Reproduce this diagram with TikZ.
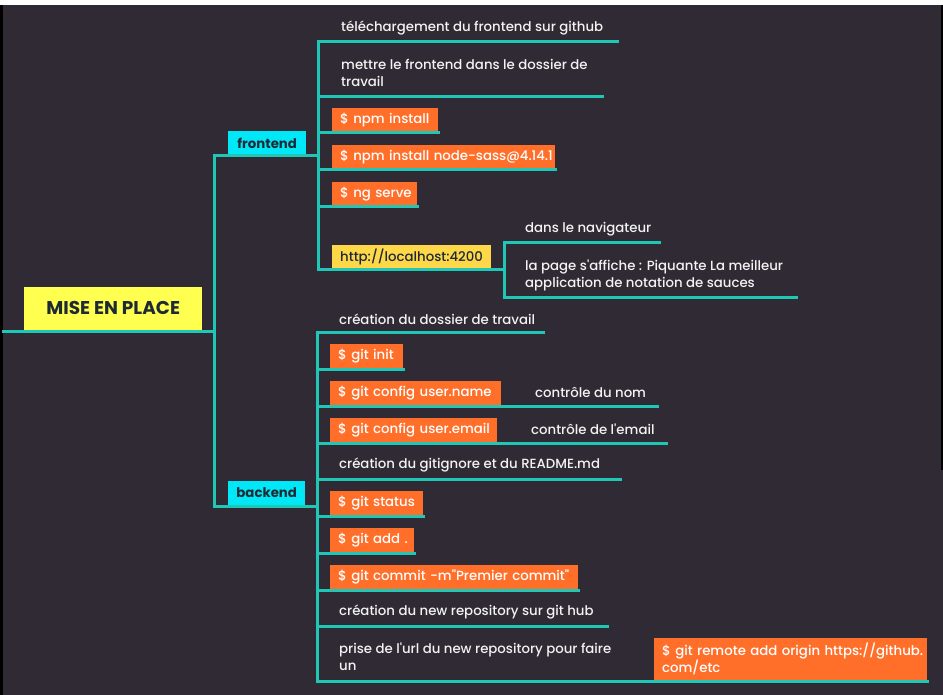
\documentclass[tikz,border=0pt]{standalone}
\usepackage{fontspec}
\setmainfont{Poppins}[UprightFont=* Medium, BoldFont=* Bold, Ligatures=TeXOff]
\definecolor{bgc}{HTML}{2F2A33}
\definecolor{teal}{HTML}{1FC8B6}
\definecolor{cyanb}{HTML}{00E8F8}
\definecolor{orangeb}{HTML}{FF6F2A}
\definecolor{yelmain}{HTML}{FFFF50}
\definecolor{yelloc}{HTML}{FFD84A}
\definecolor{txt}{HTML}{F2F2F2}
\definecolor{dark}{HTML}{1E2A33}
\tikzset{
  x=1pt, y=-1pt,
  conn/.style={draw=teal, line width=3pt, line cap=rect},
  plain/.style={text=txt, anchor=west, inner sep=0pt, align=left,
    font=\fontsize{13.3}{17}\selectfont},
  obox/.style={fill=orangeb, text=white, anchor=south west, inner xsep=8pt,
    inner ysep=0pt, minimum height=23.5pt, align=left,
    font=\fontsize{13.3}{17}\selectfont},
  cbox/.style={fill=cyanb, text=dark, anchor=south west, inner xsep=0pt,
    inner ysep=0pt, minimum height=23.5pt, align=center,
    font=\bfseries\fontsize{13.3}{15}\selectfont},
}
\begin{document}
\begin{tikzpicture}
\useasboundingbox (0,0) rectangle (943,695);
\fill[bgc] (0,0) rectangle (943,695);
\fill[white] (0,0) rectangle (943,5);
\fill[black] (0,5) rectangle (3,695);
\fill[black] (940.5,5) rectangle (943,470);

% ---- main node
\node[fill=yelmain, text=dark, anchor=south west, minimum width=178pt,
  minimum height=43pt, inner sep=0pt, font=\bfseries\fontsize{18.5}{20}\selectfont]
  (main) at (24,330) {MISE EN PLACE};
\coordinate (mainL) at (3,331);
\coordinate (mainR) at (214,331);
\coordinate (spT) at (214,156);
\coordinate (spB) at (214,506);
\draw[conn] (mainL) -- (mainR);
\draw[conn] (spT) -- (spB);

% ---- frontend / backend
\node[cbox, minimum width=78pt] (fe) at (228,155) {frontend};
\node[cbox, minimum width=77pt] (be) at (228,505) {backend};
\coordinate (feR) at (318,156);
\coordinate (beR) at (317,506);
\draw[conn] (spT) -- (feR);
\draw[conn] (spB) -- (beR);

% ---- frontend spine
\coordinate (fsT) at (318,42);
\coordinate (fsB) at (318,270);
\draw[conn] (fsT) -- (fsB);

\node[plain] (f1) at (341,28) {téléchargement du frontend sur github};
\coordinate (f1e) at (617,42);
\draw[conn] (fsT) -- (f1e);

\node[plain] (f2) at (341,73) {mettre le frontend dans le dossier de\\travail};
\coordinate (f2s) at (318,97); \coordinate (f2e) at (602,97);
\draw[conn] (f2s) -- (f2e);

\node[obox, text width=90pt] (f3) at (332,132) {\mbox{\$ npm install}};
\coordinate (f3s) at (318,133); \coordinate (f3e) at (438,133);
\draw[conn] (f3s) -- (f3e);

\node[obox, text width=207pt] (f4) at (332,169) {\mbox{\$ npm install node-sass@4.14.1}};
\coordinate (f4s) at (318,170); \coordinate (f4e) at (555,170);
\draw[conn] (f4s) -- (f4e);

\node[obox, text width=69pt] (f5) at (332,206) {\mbox{\$ ng serve}};
\coordinate (f5s) at (318,207); \coordinate (f5e) at (417,207);
\draw[conn] (f5s) -- (f5e);

\node[obox, fill=yelloc, text=dark, text width=143pt] (f6) at (332,269) {\mbox{http://localhost:4200}};
\coordinate (f6e) at (504,270);
\draw[conn] (fsB) -- (f6e);

% sub spine
\coordinate (ssT) at (504,243);
\coordinate (ssB) at (504,298);
\draw[conn] (ssT) -- (ssB);
\node[plain] (s1) at (525,229) {dans le navigateur};
\coordinate (s1e) at (659,243);
\draw[conn] (ssT) -- (s1e);
\node[plain] (s2) at (525,275) {la page s'affiche : Piquante La meilleur\\application de notation de sauces};
\coordinate (s2e) at (796,298);
\draw[conn] (ssB) -- (s2e);

% ---- backend spine
\coordinate (bsT) at (317,332);
\coordinate (bsB) at (317,681);
\draw[conn] (bsT) -- (bsB);

\node[plain] (b1) at (339,319) {création du dossier de travail};
\coordinate (b1e) at (543,332);
\draw[conn] (bsT) -- (b1e);

\node[obox, text width=57pt] (b2) at (330,368) {\mbox{\$ git init}};
\coordinate (b2s) at (317,369); \coordinate (b2e) at (403,369);
\draw[conn] (b2s) -- (b2e);

\node[obox, text width=155pt] (b3) at (330,405) {\mbox{\$ git config user.name}};
\node[plain] (b3t) at (535,392) {contrôle du nom};
\coordinate (b3s) at (317,406); \coordinate (b3e) at (657,406);
\draw[conn] (b3s) -- (b3e);

\node[obox, text width=151pt] (b4) at (330,442) {\mbox{\$ git config user.email}};
\node[plain] (b4t) at (531,429) {contrôle de l'email};
\coordinate (b4s) at (317,443); \coordinate (b4e) at (666,443);
\draw[conn] (b4s) -- (b4e);

\node[plain] (b5) at (339,465) {création du gitignore et du README.md};
\coordinate (b5s) at (317,479); \coordinate (b5e) at (620,479);
\draw[conn] (b5s) -- (b5e);

\node[obox, text width=77pt] (b6) at (330,515) {\mbox{\$ git status}};
\coordinate (b6s) at (317,516); \coordinate (b6e) at (423,516);
\draw[conn] (b6s) -- (b6e);

\node[obox, text width=68pt] (b7) at (330,552) {\mbox{\$ git add .}};
\coordinate (b7s) at (317,553); \coordinate (b7e) at (414,553);
\draw[conn] (b7s) -- (b7e);

\node[obox, text width=232pt] (b8) at (330,589) {\mbox{\$ git commit -m"Premier commit"}};
\coordinate (b8s) at (317,590); \coordinate (b8e) at (578,590);
\draw[conn] (b8s) -- (b8e);

\node[plain] (b9) at (339,612) {création du new repository sur git hub};
\coordinate (b9s) at (317,626); \coordinate (b9e) at (607,626);
\draw[conn] (b9s) -- (b9e);

\node[plain] (b10) at (339,657) {prise de l'url du new repository pour faire\\un};
\node[obox, text width=257pt, minimum height=42pt] (b10b) at (654,680)
  {\mbox{\$ git remote add origin https://github.}\\com/etc};
\coordinate (b10e) at (927,681);
\draw[conn] (bsB) -- (b10e);
\end{tikzpicture}
\end{document}
